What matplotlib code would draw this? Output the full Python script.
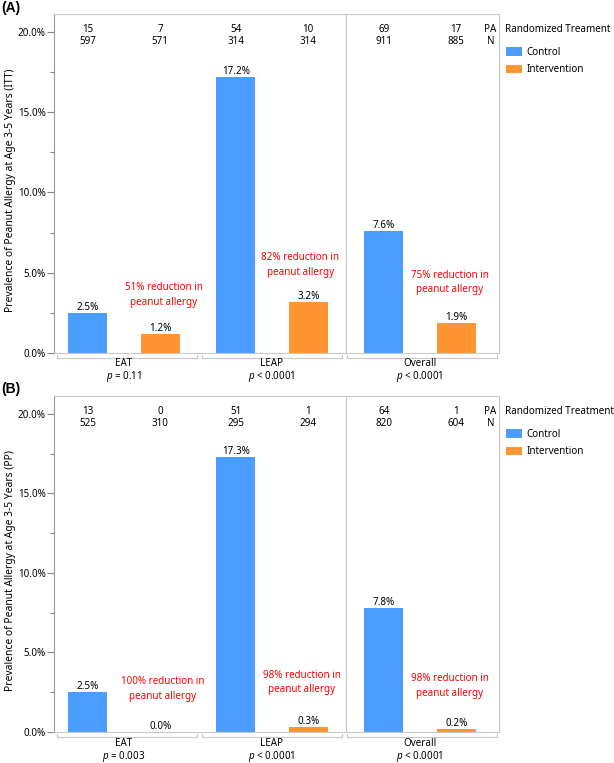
import numpy as np
import matplotlib
matplotlib.use("Agg")
import matplotlib.pyplot as plt
from matplotlib.patches import Patch

plt.rcParams['font.family'] = ['Noto Sans', 'DejaVu Sans']
plt.rcParams['mathtext.fontset'] = 'custom'
plt.rcParams['mathtext.it'] = 'Noto Sans:italic'
plt.rcParams['mathtext.rm'] = 'Noto Sans'

groups = ['EAT', 'LEAP', 'Overall']

# (A) intention to treat
itt_control = [2.5, 17.2, 7.6]
itt_interv = [1.2, 3.2, 1.9]
itt_pa_control = [15, 54, 69]
itt_pa_interv = [7, 10, 17]
itt_n_control = [597, 314, 911]
itt_n_interv = [571, 314, 885]
itt_p = ['= 0.11', '< 0.0001', '< 0.0001']
itt_reduction = [51, 82, 75]

# (B) per protocol
pp_control = [2.5, 17.3, 7.8]
pp_interv = [0.0, 0.3, 0.2]
pp_pa_control = [13, 51, 64]
pp_pa_interv = [0, 1, 1]
pp_n_control = [525, 295, 820]
pp_n_interv = [310, 294, 604]
pp_p = ['= 0.003', '< 0.0001', '< 0.0001']
pp_reduction = [100, 98, 98]

BLUE = '#4A9CFF'
ORANGE = '#FF9433'
GRID = '#c8c8c8'
FS = 7.1

W, H = 614, 763
fig = plt.figure(figsize=(W / 100, H / 100), dpi=100)


def px_axes(left, top, right, bottom):
    return fig.add_axes([left / W, 1 - bottom / H, (right - left) / W, (bottom - top) / H])


def draw_panel(ax, control, interv, pa_c, pa_i, n_c, n_i, pvals, reductions,
               ylabel, legend_title, note_x, note_y):
    x = np.arange(len(groups))
    off, bw = 0.245, 0.264
    ax.bar(x - off, control, bw, color=BLUE, zorder=2)
    ax.bar(x + off, interv, bw, color=ORANGE, zorder=2)
    ax_h = ax.get_position().height * H

    for xs, vals in ((x - off, control), (x + off, interv)):
        for xi, v in zip(xs, vals):
            ax.annotate(f'{v:.1f}%', (xi, v), xytext=(0, 0), textcoords='offset pixels',
                        ha='center', va='bottom', fontsize=FS)

    # counts along the top
    for xs, pa, n in ((x - off, pa_c, n_c), (x + off, pa_i, n_i)):
        for xi, a, b in zip(xs, pa, n):
            ax.annotate(str(a), (xi, 1), xycoords=('data', 'axes fraction'), xytext=(0, -15),
                        textcoords='offset pixels', ha='center', va='center', fontsize=FS)
            ax.annotate(str(b), (xi, 1), xycoords=('data', 'axes fraction'), xytext=(0, -28),
                        textcoords='offset pixels', ha='center', va='center', fontsize=FS)
    ax.annotate('PA', (1, 1), xycoords='axes fraction', xytext=(-3, -15),
                textcoords='offset pixels', ha='right', va='center', fontsize=FS)
    ax.annotate('N', (1, 1), xycoords='axes fraction', xytext=(-4, -28),
                textcoords='offset pixels', ha='right', va='center', fontsize=FS)

    for xi, yi, r in zip(note_x, note_y, reductions):
        ax.text(xi, yi, f'{r}% reduction in\npeanut allergy', color='red', ha='center',
                va='center', fontsize=FS, linespacing=1.45)

    ax.axvline(1.5, color=GRID, lw=0.8, zorder=1)

    ax.set_xlim(-0.473, 2.534)
    ax.set_ylim(0, 21.12)
    ax.set_xticks([])
    ax.set_yticks(np.arange(0, 20.1, 5))
    ax.set_yticks(np.arange(2.5, 20, 5), minor=True)
    ax.set_yticklabels([f'{v:.1f}%' for v in np.arange(0, 20.1, 5)], fontsize=FS)
    ax.tick_params(axis='y', which='major', length=5, width=0.8, color='#888888', pad=1)
    ax.tick_params(axis='y', which='minor', length=3, width=0.8, color='#888888')
    for s in ax.spines.values():
        s.set_color(GRID)
        s.set_linewidth(0.8)
    ax.spines['left'].set_color('#999999')

    ax.set_ylabel(ylabel, fontsize=7.4)
    ax.yaxis.set_label_coords(-0.085, 0.48)

    # group brackets and labels below the axis
    spans = [(-0.45, 0.49), (0.53, 1.47), (1.51, 2.52)]
    trans = ax.get_xaxis_transform()
    dy = 5 / ax_h
    tk = 3 / ax_h
    for (a, b), xi, g, p in zip(spans, x, groups, pvals):
        ax.plot([a, a, b, b], [-dy + tk, -dy, -dy, -dy + tk], color=GRID, lw=0.8,
                transform=trans, clip_on=False)
        ax.annotate(g, (xi, 0), xycoords=('data', 'axes fraction'), xytext=(0, -11),
                    textcoords='offset pixels', ha='center', va='center', fontsize=FS)
        ax.annotate(r'$\it{p}$ ' + p, (xi, 0), xycoords=('data', 'axes fraction'),
                    xytext=(0, -24), textcoords='offset pixels', ha='center', va='center', fontsize=FS)

    # legend: title placed as text, entries as a legend below it
    ax.annotate(legend_title, (1, 1), xycoords='axes fraction', xytext=(6, -15),
                textcoords='offset pixels', ha='left', va='center', fontsize=FS)
    handles = [Patch(facecolor=BLUE, label='Control'), Patch(facecolor=ORANGE, label='Intervention')]
    ax.legend(handles=handles, loc='upper left', bbox_to_anchor=(1 + 7 / 445, 1 - 33 / ax_h),
              frameon=False, fontsize=FS, borderpad=0, borderaxespad=0,
              handlelength=1.65, handleheight=0.93, handletextpad=0.4, labelspacing=0.65)


ax1 = px_axes(54, 14, 499, 353)
draw_panel(ax1, itt_control, itt_interv, itt_pa_control, itt_pa_interv, itt_n_control, itt_n_interv,
           itt_p, itt_reduction, 'Prevalence of Peanut Allergy at Age 3-5 Years (ITT)',
           'Randomized Treament', [0.27, 1.19, 2.2], [3.6, 5.5, 4.4])

ax2 = px_axes(54, 396, 499, 732)
draw_panel(ax2, pp_control, pp_interv, pp_pa_control, pp_pa_interv, pp_n_control, pp_n_interv,
           pp_p, pp_reduction, 'Prevalence of Peanut Allergy at Age 3-5 Years (PP)',
           'Randomized Treatment', [0.26, 1.2, 2.2], [2.7, 3.1, 2.9])

fig.text(1 / W, 1 - 8 / H, '(A)', fontsize=10, fontweight='bold', family='Liberation Sans',
         ha='left', va='center')
fig.text(1 / W, 1 - 389 / H, '(B)', fontsize=10, fontweight='bold', family='Liberation Sans',
         ha='left', va='center')

fig.savefig('out.png', dpi=100)
